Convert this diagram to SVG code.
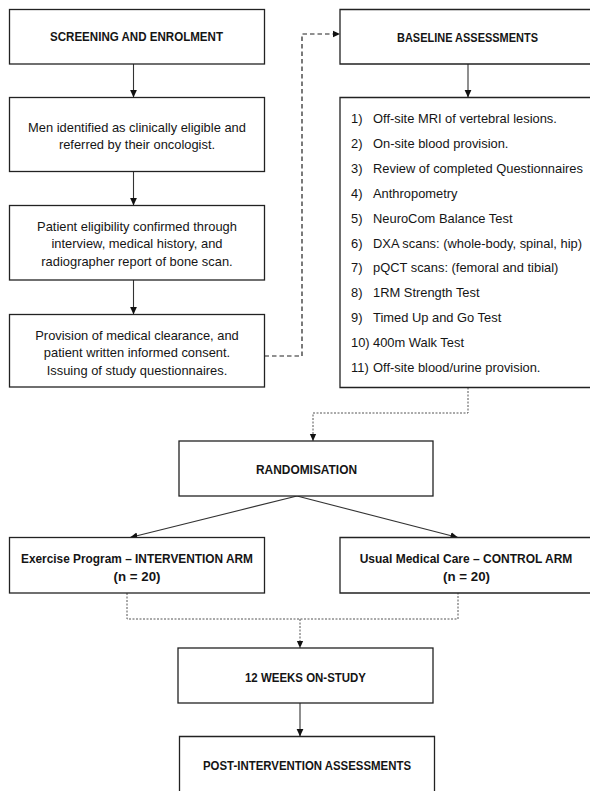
<svg xmlns="http://www.w3.org/2000/svg" width="590" height="791" viewBox="0 0 590 791">
<style>
.box{fill:#fff;stroke:#222;stroke-width:1.3}
.t{font-family:"Liberation Sans",Arial,sans-serif;font-size:12.9px;fill:#151515}
.c{text-anchor:middle}
.b{font-weight:bold;font-size:13.3px}
.solid{fill:none;stroke:#333;stroke-width:1.1}
.dash{fill:none;stroke:#222;stroke-width:1.2;stroke-dasharray:4.5 3}
.dot{fill:none;stroke:#555;stroke-width:1;stroke-dasharray:2 1.5}
</style>
<defs>
<marker id="ah" viewBox="0 0 10 10" refX="10" refY="5" markerWidth="7.5" markerHeight="7.5" markerUnits="userSpaceOnUse" orient="auto">
<path d="M0,0.5 L10,5 L0,9.5 Z" fill="#111"/>
</marker>
</defs>
<rect width="590" height="791" fill="#fff"/>
<g id="connectors">
<path class="solid" d="M133.5,64 V97.5" marker-end="url(#ah)"/>
<path class="solid" d="M133.5,171.5 V205.5" marker-end="url(#ah)"/>
<path class="solid" d="M133.5,280 V314.5" marker-end="url(#ah)"/>
<path class="dash" d="M264.5,356 H302 V34 H340" marker-end="url(#ah)"/>
<path class="solid" d="M468,64 V97.5" marker-end="url(#ah)"/>
<path class="dot" d="M468,387.5 V413 H313 V441" marker-end="url(#ah)"/>
<path class="solid" d="M297,496 L130,537.5" marker-end="url(#ah)"/>
<path class="solid" d="M297,496 L458,537.5" marker-end="url(#ah)"/>
<path class="dot" d="M127,593 V619 H458 V593"/>
<path class="dot" d="M300,619 V648" marker-end="url(#ah)"/>
<path class="solid" d="M300,703 V736.5" marker-end="url(#ah)"/>
</g>
<g id="screening">
<rect class="box" x="9.5" y="9.5" width="255" height="54.5"/>
<text class="t c b" x="136.5" y="41" textLength="173" lengthAdjust="spacingAndGlyphs">SCREENING AND ENROLMENT</text>
</g>
<g id="men-identified">
<rect class="box" x="9.5" y="97.5" width="255" height="74"/>
<text class="t c" x="137" y="131.5">Men identified as clinically eligible and</text>
<text class="t c" x="137" y="148.5">referred by their oncologist.</text>
</g>
<g id="eligibility">
<rect class="box" x="9.5" y="205.5" width="255" height="74.5"/>
<text class="t c" x="137" y="230.5">Patient eligibility confirmed through</text>
<text class="t c" x="137" y="248">interview, medical history, and</text>
<text class="t c" x="137" y="265.5">radiographer report of bone scan.</text>
</g>
<g id="clearance">
<rect class="box" x="9.5" y="314.5" width="255" height="72.5"/>
<text class="t c" x="137" y="339.5">Provision of medical clearance, and</text>
<text class="t c" x="137" y="357">patient written informed consent.</text>
<text class="t c" x="137" y="374.5">Issuing of study questionnaires.</text>
</g>
<g id="baseline">
<path class="box" d="M590,9.5 H340 V64 H590"/>
<text class="t c b" x="467.5" y="42" textLength="141" lengthAdjust="spacingAndGlyphs">BASELINE ASSESSMENTS</text>
</g>
<g id="assessments">
<path class="box" d="M590,97.5 H340 V387.5 H590"/>
<text class="t" x="351" y="123">1)</text><text class="t" x="373" y="123">Off-site MRI of vertebral lesions.</text>
<text class="t" x="351" y="147.9">2)</text><text class="t" x="373" y="147.9">On-site blood provision.</text>
<text class="t" x="351" y="172.8">3)</text><text class="t" x="373" y="172.8">Review of completed Questionnaires</text>
<text class="t" x="351" y="197.7">4)</text><text class="t" x="373" y="197.7">Anthropometry</text>
<text class="t" x="351" y="222.6">5)</text><text class="t" x="373" y="222.6">NeuroCom Balance Test</text>
<text class="t" x="351" y="247.5">6)</text><text class="t" x="373" y="247.5">DXA scans: (whole-body, spinal, hip)</text>
<text class="t" x="351" y="272.4">7)</text><text class="t" x="373" y="272.4">pQCT scans: (femoral and tibial)</text>
<text class="t" x="351" y="297.3">8)</text><text class="t" x="373" y="297.3">1RM Strength Test</text>
<text class="t" x="351" y="322.2">9)</text><text class="t" x="373" y="322.2">Timed Up and Go Test</text>
<text class="t" x="351" y="347.1">10)</text><text class="t" x="373" y="347.1">400m Walk Test</text>
<text class="t" x="351" y="372">11)</text><text class="t" x="373" y="372">Off-site blood/urine provision.</text>
</g>
<g id="randomisation">
<rect class="box" x="179" y="441" width="254" height="55"/>
<text class="t c b" x="306.5" y="474" textLength="101" lengthAdjust="spacingAndGlyphs">RANDOMISATION</text>
</g>
<g id="intervention">
<rect class="box" x="9.5" y="537.5" width="255" height="55.5"/>
<text class="t c b" x="137" y="563" textLength="232" lengthAdjust="spacingAndGlyphs">Exercise Program – INTERVENTION ARM</text>
<text class="t c b" x="137" y="581">(n = 20)</text>
</g>
<g id="control">
<path class="box" d="M590,537.5 H340 V593 H590"/>
<text class="t c b" x="466" y="563" style="font-size:12px">Usual Medical Care – CONTROL ARM</text>
<text class="t c b" x="466.5" y="581">(n = 20)</text>
</g>
<g id="on-study">
<rect class="box" x="178" y="648" width="255" height="55"/>
<text class="t c b" x="305.5" y="682" textLength="121" lengthAdjust="spacingAndGlyphs">12 WEEKS ON-STUDY</text>
</g>
<g id="post">
<path class="box" d="M179.5,791 V736.5 H434.5 V791"/>
<text class="t c b" x="307" y="770" textLength="208" lengthAdjust="spacingAndGlyphs">POST-INTERVENTION ASSESSMENTS</text>
</g>
</svg>
